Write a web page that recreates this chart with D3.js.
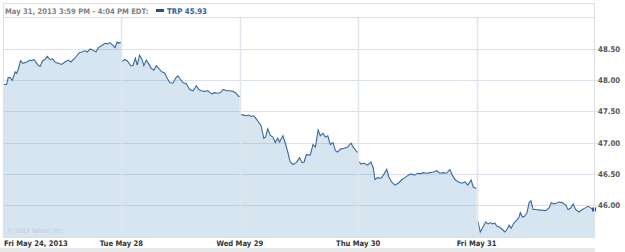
<!DOCTYPE html>
<html>
  <head>
    <title>TRP 5 day</title>
    <script src="https://d3js.org/d3.v7.min.js" charset="utf-8"></script>
    <style>
    body {
        margin: 0;
        background: #fff;
        font-family: "DejaVu Sans Condensed", "DejaVu Sans", sans-serif;
    }
    </style>
  </head>

  <body>
    <script>
// session minutes after 9:30 open, and price, for each trading day
var days = ["Fri May 24, 2013", "Tue May 28", "Wed May 29", "Thu May 30", "Fri May 31"];
var yTicks = [46.00, 46.50, 47.00, 47.50, 48.00, 48.50];

var may24 = [[1,47.93],[12,47.93],[17,48.04],[23,48.04],[31,48.00],[40,48.13],[45,48.11],[50,48.17],[58,48.31],[65,48.27],[78,48.29],[89,48.32],[95,48.31],[102,48.33],[109,48.28],[116,48.24],[122,48.22],[131,48.31],[138,48.33],[146,48.38],[155,48.33],[164,48.34],[171,48.29],[182,48.27],[193,48.25],[204,48.29],[215,48.32],[223,48.29],[232,48.33],[243,48.39],[251,48.44],[259,48.45],[270,48.47],[278,48.45],[287,48.50],[297,48.48],[306,48.45],[314,48.52],[325,48.55],[336,48.59],[344,48.58],[352,48.60],[361,48.56],[369,48.52],[376,48.61],[381,48.59],[386,48.60]];
var may28 = [[2,48.30],[11,48.33],[19,48.31],[31,48.23],[38,48.23],[46,48.35],[52,48.24],[60,48.40],[68,48.33],[74,48.23],[82,48.32],[90,48.26],[98,48.19],[107,48.16],[115,48.23],[123,48.19],[131,48.14],[143,48.11],[151,48.03],[159,47.96],[170,47.95],[178,48.03],[186,48.07],[195,48.01],[203,47.96],[214,47.94],[225,47.85],[236,47.83],[247,47.91],[255,47.85],[263,47.83],[274,47.82],[285,47.83],[298,47.78],[307,47.80],[318,47.79],[327,47.80],[335,47.85],[346,47.83],[357,47.83],[368,47.82],[378,47.79],[386,47.74]];
var may29 = [[4,47.45],[13,47.44],[21,47.43],[29,47.44],[37,47.42],[46,47.43],[54,47.38],[62,47.33],[70,47.27],[79,47.07],[85,47.09],[92,47.22],[100,47.12],[109,47.09],[117,47.00],[125,47.07],[131,47.01],[142,47.11],[150,46.99],[158,46.85],[166,46.69],[175,46.65],[186,46.68],[197,46.76],[205,46.68],[212,46.69],[219,46.81],[227,46.80],[232,46.80],[241,46.97],[249,46.93],[258,47.20],[265,47.11],[274,47.15],[282,47.09],[290,47.11],[298,46.97],[307,47.00],[315,46.87],[322,46.85],[333,46.90],[344,46.91],[355,46.93],[366,46.99],[375,46.92],[386,46.85]];
var may30 = [[3,46.69],[9,46.66],[20,46.67],[31,46.64],[42,46.69],[50,46.59],[55,46.41],[64,46.44],[75,46.43],[83,46.48],[94,46.57],[101,46.45],[110,46.37],[121,46.32],[132,46.35],[144,46.41],[154,46.44],[165,46.48],[174,46.50],[185,46.48],[196,46.51],[204,46.50],[215,46.52],[226,46.51],[237,46.52],[248,46.53],[259,46.55],[269,46.51],[280,46.52],[291,46.51],[302,46.57],[310,46.48],[319,46.41],[330,46.37],[341,46.35],[352,46.37],[361,46.32],[372,46.40],[379,46.29],[387,46.27]];
var may31 = [[5,45.73],[12,45.57],[21,45.65],[30,45.73],[38,45.70],[45,45.72],[52,45.70],[60,45.71],[67,45.66],[76,45.65],[85,45.61],[93,45.57],[100,45.61],[107,45.68],[114,45.63],[122,45.71],[131,45.75],[140,45.81],[144,45.88],[151,45.81],[158,45.82],[166,45.88],[173,46.04],[179,46.07],[186,45.93],[195,45.93],[206,45.92],[216,45.92],[228,45.91],[239,45.96],[246,46.04],[254,46.02],[263,46.03],[271,46.05],[282,46.04],[294,46.00],[301,45.93],[309,45.95],[318,46.02],[326,45.93],[337,45.89],[348,45.93],[360,45.96],[367,45.98],[375,45.96],[382,45.93],[387,45.93]];
var sessions = [may24, may28, may29, may30, may31];

var width = 625;
var height = 252;
var plotL = 3, plotR = 595, plotT = 17, plotB = 237;
var session = 390;

var svg = d3.select("body")
  .append("svg")
  .attr("width", width)
  .attr("height", height);

var x = d3.scaleLinear().domain([0, session * days.length]).range([plotL, plotR]);
var y = d3.scaleLinear().domain([45.49, 49.01]).range([plotB, plotT]);

// bottom band
svg.append("rect")
  .attr("x", 0).attr("y", 248)
  .attr("width", plotR).attr("height", 4)
  .attr("fill", "#e6e8ea");

// horizontal grid
svg.append("g")
  .selectAll("line")
  .data(yTicks)
  .enter()
  .append("line")
  .attr("x1", plotL).attr("x2", plotR + 3)
  .attr("y1", function(d){ return Math.round(y(d)) + 0.5; })
  .attr("y2", function(d){ return Math.round(y(d)) + 0.5; })
  .attr("stroke", "#d9e2eb");

var area = d3.area()
  .x(function(d){ return x(d[0]); })
  .y0(plotB)
  .y1(function(d){ return y(d[1]); });

var line = d3.line()
  .x(function(d){ return x(d[0]); })
  .y(function(d){ return y(d[1]); });

var plot = svg.append("g");

sessions.forEach(function(s, i){
  var pts = s.map(function(d){ return [i * session + d[0], d[1]]; });
  var first = [i * session, pts[0][1]];
  var last = [(i + 1) * session, pts[pts.length - 1][1]];
  var full = [first].concat(pts, [last]);
  plot.append("path")
    .attr("d", area(full))
    .attr("fill", "rgba(94,150,200,0.25)");
  plot.append("path")
    .attr("d", line(full))
    .attr("fill", "none")
    .attr("stroke", "#3a6a9f")
    .attr("stroke-width", 1.1);
});

// day separators
svg.append("g")
  .selectAll("line")
  .data(days.slice(1))
  .enter()
  .append("line")
  .attr("x1", function(d, i){ return Math.round(x((i + 1) * session)) + 0.5; })
  .attr("x2", function(d, i){ return Math.round(x((i + 1) * session)) + 0.5; })
  .attr("y1", plotT).attr("y2", plotB)
  .attr("stroke", "#dde6ef")
  .attr("stroke-width", 1.5);

// end marker
var endPt = may31[may31.length - 1];
svg.append("rect")
  .attr("x", x(4 * session + endPt[0]) - 2)
  .attr("y", y(endPt[1]) - 2)
  .attr("width", 4).attr("height", 4)
  .attr("fill", "#1f5590");

// frame and header
svg.append("rect")
  .attr("x", plotL + 0.5).attr("y", 3.5)
  .attr("width", plotR - plotL - 1).attr("height", plotB - 3)
  .attr("fill", "none")
  .attr("stroke", "#dcdfe3");
svg.append("line")
  .attr("x1", plotL).attr("x2", plotR)
  .attr("y1", plotT + 0.5).attr("y2", plotT + 0.5)
  .attr("stroke", "#dcdfe3");

svg.append("text")
  .attr("x", 5).attr("y", 13.5)
  .attr("font-size", "7.6px")
  .attr("font-weight", "bold")
  .attr("fill", "#808080")
  .text("May 31, 2013 3:59 PM - 4:04 PM EDT:");
svg.append("rect")
  .attr("x", 156).attr("y", 9)
  .attr("width", 8).attr("height", 3)
  .attr("fill", "#1f5590");
svg.append("text")
  .attr("x", 167).attr("y", 13.5)
  .attr("font-size", "7.8px")
  .attr("font-weight", "bold")
  .attr("fill", "#2b64a3")
  .text("TRP 45.93");

// copyright
svg.append("text")
  .attr("x", 7).attr("y", 233)
  .attr("font-size", "6.5px")
  .attr("fill", "#bfcad5")
  .text("\u00a9 2013 Yahoo! Inc.");

// y labels
svg.append("g")
  .selectAll("text")
  .data(yTicks)
  .enter()
  .append("text")
  .attr("x", plotR + 3)
  .attr("y", function(d){ return y(d) + 3; })
  .attr("font-size", "7.8px")
  .attr("font-weight", "bold")
  .attr("fill", "#5a5550")
  .text(function(d){ return d3.format(".2f")(d); });

// x labels
svg.append("g")
  .selectAll("text")
  .data(days)
  .enter()
  .append("text")
  .attr("x", function(d, i){ return i === 0 ? 4 : x(i * session); })
  .attr("y", 246)
  .attr("text-anchor", function(d, i){ return i === 0 ? "start" : "middle"; })
  .attr("font-size", "7.6px")
  .attr("font-weight", "bold")
  .attr("fill", "#333")
  .text(function(d){ return d; });
    </script>
  </body>
</html>
